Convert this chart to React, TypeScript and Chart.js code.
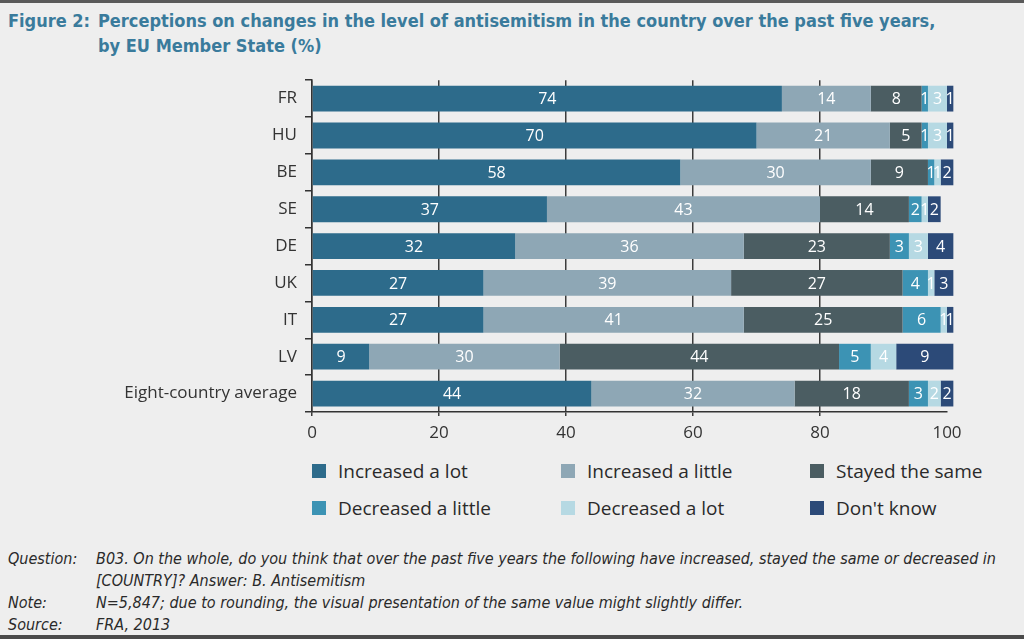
import React, { useEffect, useRef } from "react";
import { Chart, registerables } from "chart.js";

Chart.register(...registerables);

const categories = ["FR", "HU", "BE", "SE", "DE", "UK", "IT", "LV", "Eight-country average"];
const increasedALot = [74, 70, 58, 37, 32, 27, 27, 9, 44];
const increasedALittle = [14, 21, 30, 43, 36, 39, 41, 30, 32];
const stayedTheSame = [8, 5, 9, 14, 23, 27, 25, 44, 18];
const decreasedALittle = [1, 1, 1, 2, 3, 4, 6, 5, 3];
const decreasedALot = [3, 3, 1, 1, 3, 1, 1, 4, 2];
const dontKnow = [1, 1, 2, 2, 4, 3, 1, 9, 2];
const seriesNames = [
  "Increased a lot",
  "Increased a little",
  "Stayed the same",
  "Decreased a little",
  "Decreased a lot",
  "Don't know",
];
const seriesColors = ["#2d6b8b", "#8ea7b5", "#4b5d62", "#3c93b4", "#b6d9e3", "#2c4a78"];
const xTickValues = [0, 20, 40, 60, 80, 100];

const titleLead = "Figure 2:";
const titleText = ["Perceptions on changes in the level of antisemitism in the country over the past five years,", "by EU Member State (%)"];
const notes = [
  ["Question:", "B03. On the whole, do you think that over the past five years the following have increased, stayed the same or decreased in"],
  ["", "[COUNTRY]? Answer: B. Antisemitism"],
  ["Note:", "N=5,847; due to rounding, the visual presentation of the same value might slightly differ."],
  ["Source:", "FRA, 2013"],
];

const valueLabels = {
  id: "valueLabels",
  afterDatasetsDraw(chart: any) {
    const ctx = chart.ctx;
    ctx.save();
    ctx.font = "16px 'Open Sans'";
    ctx.fillStyle = "#ffffff";
    ctx.textAlign = "center";
    ctx.textBaseline = "middle";
    chart.data.datasets.forEach((ds: any, di: number) => {
      const meta = chart.getDatasetMeta(di);
      meta.data.forEach((bar: any, i: number) => {
        const v = ds.data[i];
        if (!v) return;
        const cx = (bar.x + bar.base) / 2;
        ctx.fillText(String(v), cx, bar.y + 1);
      });
    });
    ctx.restore();
  },
};

export default function App() {
  const canvasRef = useRef<HTMLCanvasElement | null>(null);

  useEffect(() => {
    const allSeries = [increasedALot, increasedALittle, stayedTheSame, decreasedALittle, decreasedALot, dontKnow];
    const chart = new Chart(canvasRef.current as HTMLCanvasElement, {
      type: "bar",
      data: {
        labels: categories,
        datasets: allSeries.map((d, i) => ({
          label: seriesNames[i],
          data: d,
          backgroundColor: seriesColors[i],
          borderWidth: 0,
          barPercentage: 0.7,
          categoryPercentage: 1,
          clip: false as any,
        })),
      },
      options: {
        indexAxis: "y",
        responsive: false,
        animation: false,
        layout: { padding: { top: 7, right: 77, left: 0, bottom: 0 } },
        plugins: {
          legend: { display: false },
          tooltip: { enabled: false },
          title: { display: false },
        },
        scales: {
          x: {
            stacked: true,
            min: 0,
            max: 100,
            afterBuildTicks: (scale: any) => {
              scale.ticks = xTickValues.map((v) => ({ value: v }));
            },
            afterFit: (scale: any) => {
              scale.height = 43;
            },
            grid: {
              color: (c: any) => (c.tick && c.tick.value === 100 ? "rgba(0,0,0,0)" : "#3c3c3c"),
              lineWidth: 1.5,
              drawTicks: true,
              tickLength: 4,
            },
            border: { display: true, color: "#333333", width: 1.5 },
            ticks: {
              color: "#333333",
              font: { family: "'Open Sans'", size: 17 },
              padding: 7,
              maxRotation: 0,
            },
          },
          y: {
            stacked: true,
            afterFit: (scale: any) => {
              scale.width = 312;
            },
            grid: {
              drawOnChartArea: false,
              drawTicks: true,
              tickLength: 7,
              color: "#333333",
              lineWidth: 1.5,
              offset: true,
            },
            border: { display: true, color: "#333333", width: 1.5 },
            ticks: {
              color: "#333333",
              font: { family: "'Open Sans'", size: 17 },
              padding: 8,
            },
          },
        },
      },
      plugins: [valueLabels],
    } as any);
    return () => chart.destroy();
  }, []);

  const narrow = "'Liberation Sans Narrow', 'DejaVu Sans Condensed', sans-serif";

  return (
    <div
      style={{
        position: "fixed",
        left: 0,
        top: 0,
        width: 1024,
        height: 639,
        background: "#eeeeee",
        overflow: "hidden",
        borderTop: "3px solid #5a5a5a",
        borderBottom: "4px solid #4a4a4a",
        boxSizing: "border-box",
      }}
    >
      <div
        style={{
          position: "absolute",
          left: 8,
          top: 5,
          fontFamily: narrow,
          fontWeight: "bold",
          fontSize: 18,
          lineHeight: "25px",
          color: "#3a7b9c",
          display: "grid",
          gridTemplateColumns: "90px auto",
        }}
      >
        <div>{titleLead}</div>
        <div>
          {titleText.map((t, i) => (
            <div key={i}>{t}</div>
          ))}
        </div>
      </div>

      <canvas
        ref={canvasRef}
        width={1024}
        height={393}
        style={{ position: "absolute", left: 0, top: 59, width: 1024, height: 393 }}
      />

      <div
        style={{
          position: "absolute",
          left: 312,
          top: 455,
          display: "grid",
          gridTemplateColumns: "249px 249px 200px",
          rowGap: 11,
          fontFamily: "'Open Sans'",
          fontSize: 19,
          color: "#2a2a2a",
        }}
      >
        {seriesNames.map((n, i) => (
          <div key={n} style={{ display: "flex", alignItems: "center", height: 26 }}>
            <span style={{ width: 14, height: 14, background: seriesColors[i], marginRight: 12, display: "inline-block" }} />
            <span>{n}</span>
          </div>
        ))}
      </div>

      <div
        style={{
          position: "absolute",
          left: 8,
          top: 545,
          fontFamily: narrow,
          fontStyle: "italic",
          fontSize: 16,
          lineHeight: "22px",
          color: "#2a2a2a",
          display: "grid",
          gridTemplateColumns: "88px auto",
        }}
      >
        {notes.map(([a, b], i) => (
          <React.Fragment key={i}>
            <div>{a}</div>
            <div>{b}</div>
          </React.Fragment>
        ))}
      </div>
    </div>
  );
}
